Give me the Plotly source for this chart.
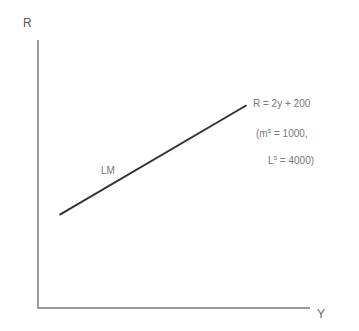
import plotly.graph_objects as go

# Data: LM curve R = 2Y + 200 (segment drawn in the sketch)
lm_y = [15, 152]
lm_r = [230, 504]

axis_x_label = "Y"
axis_y_label = "R"
curve_label = "LM"
eq_lines = ["R = 2y + 200", "(m<sup>s</sup> = 1000,", "L<sup>s</sup> = 4000)"]

fig = go.Figure()
fig.add_trace(go.Scatter(x=lm_y, y=lm_r, mode="lines",
                         line=dict(color="#333333", width=2), showlegend=False,
                         hoverinfo="skip"))

txt = dict(family="Liberation Sans, Arial, sans-serif", size=10, color="#777777")
ann = [
    dict(text=axis_y_label, x=-0.044, y=1.064, font=dict(family=txt["family"], size=12, color="#555555")),
    dict(text=axis_x_label, x=1.04, y=-0.025, font=dict(family=txt["family"], size=12, color="#666666")),
    dict(text=eq_lines[0], x=0.897, y=0.764, font=txt),
    dict(text=eq_lines[1], x=0.895, y=0.652, font=txt),
    dict(text=eq_lines[2], x=0.93, y=0.551, font=txt),
    dict(text=curve_label, x=0.255, y=0.513, font=txt),
]
for a in ann:
    a.update(xref="paper", yref="paper", showarrow=False, xanchor="center", yanchor="middle")

fig.update_layout(
    width=359, height=331,
    margin=dict(l=31, r=57, t=32, b=32),
    paper_bgcolor="white", plot_bgcolor="white",
    annotations=ann,
    xaxis=dict(range=[0, 198.5], showgrid=False, zeroline=False, showticklabels=False,
               ticks="", showline=True, linecolor="#9a9a9a", linewidth=2, fixedrange=True),
    yaxis=dict(range=[0, 667], showgrid=False, zeroline=False, showticklabels=False,
               ticks="", showline=True, linecolor="#9a9a9a", linewidth=2, fixedrange=True),
)
fig.write_html("out.html", config={"displayModeBar": False})
